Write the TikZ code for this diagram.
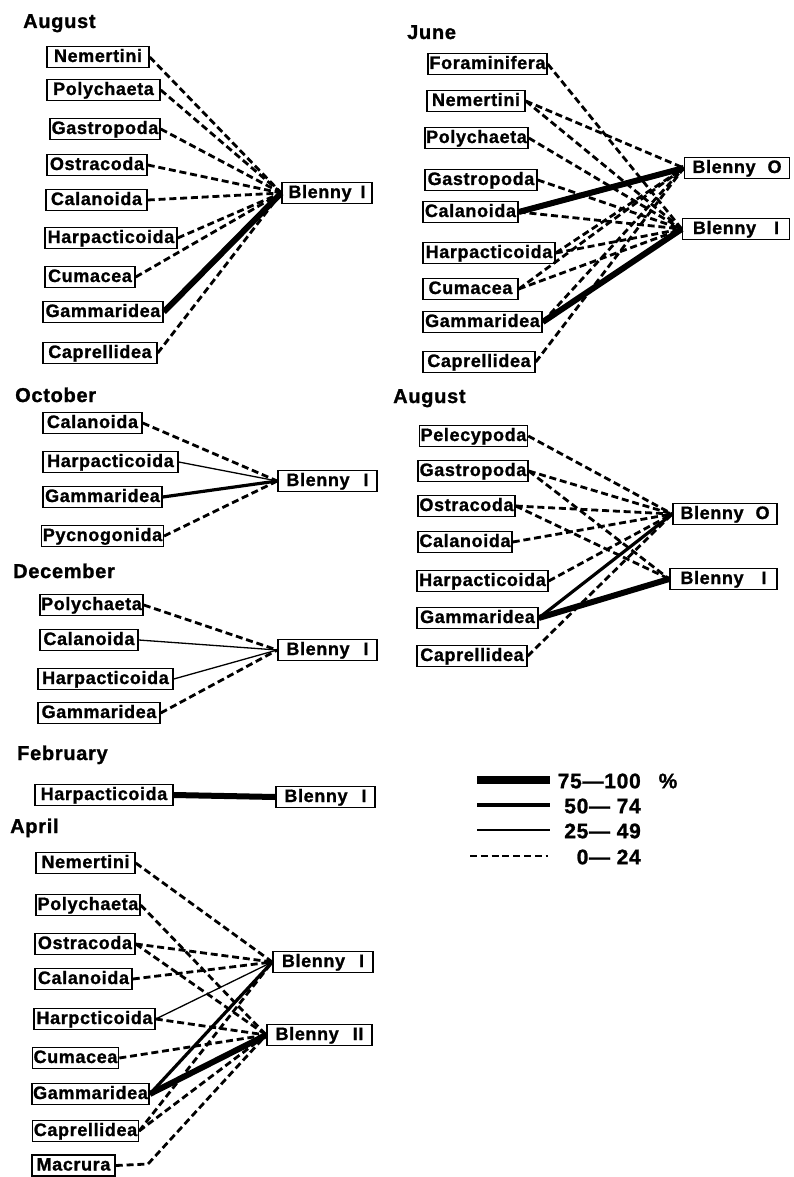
\documentclass[tikz,border=0pt]{standalone}
\usepackage{fontspec}
\setmainfont{Liberation Sans}[LetterSpace=3.5, BoldFeatures={FakeBold=1.2}]
\begin{document}
\begin{tikzpicture}[x=1pt,y=-1pt,
  box/.style={draw, line width=1.5pt, fill=white, font=\fontsize{18}{18}\selectfont\bfseries,
    inner xsep=1.2pt, inner ysep=0pt, minimum height=21pt, text height=13pt, text depth=3pt},
  ttl/.style={anchor=base west, inner sep=0pt, font=\fontsize{20}{20}\selectfont\bfseries},
  leg/.style={anchor=east, inner sep=0pt, font=\fontsize{21}{21}\selectfont\bfseries},
  pc0/.style={line width=2.8pt, dash pattern=on 7pt off 3.8pt},
  pc25/.style={line width=1.3pt},
  pc50/.style={line width=3.2pt},
  pc75/.style={line width=6pt}]
\useasboundingbox (0,0) rectangle (793,1177);

% ---------------- August (top left)
\node[ttl] (tA) at (23,28) {August};
\node[box, minimum width=102pt] (aNem) at (98,57) {Nemertini};
\node[box, minimum width=113pt] (aPol) at (103.5,90) {Polychaeta};
\node[box, minimum width=110pt] (aGas) at (105,129) {Gastropoda};
\node[box, minimum width=100pt] (aOst) at (97,165) {Ostracoda};
\node[box, minimum width=101pt] (aCal) at (96.5,200) {Calanoida};
\node[box, minimum width=132pt] (aHar) at (111,238) {Harpacticoida};
\node[box, minimum width=90pt] (aCum) at (90,277) {Cumacea};
\node[box, minimum width=120pt] (aGam) at (103,312) {Gammaridea};
\node[box, minimum width=114pt] (aCap) at (100,353) {Caprellidea};
\node[box, minimum width=90pt] (aB) at (327,193) {Blenny\hspace{9pt}I};
\foreach \s in {aNem,aPol,aGas,aOst,aCal,aHar,aCum,aCap}
  \draw[pc0] (\s.east) -- (aB.west);
\draw[pc75] (aGam.east) -- (aB.west);

% ---------------- June
\node[ttl] (tJ) at (407,39) {June};
\node[box, minimum width=119pt] (jFor) at (487.5,64) {Foraminifera};
\node[box, minimum width=98pt] (jNem) at (476,101) {Nemertini};
\node[box, minimum width=103pt] (jPol) at (476.5,138) {Polychaeta};
\node[box, minimum width=112pt] (jGas) at (481,180) {Gastropoda};
\node[box, minimum width=95pt] (jCal) at (470.5,212) {Calanoida};
\node[box, minimum width=132pt] (jHar) at (489,253) {Harpacticoida};
\node[box, minimum width=95pt] (jCum) at (470.5,289) {Cumacea};
\node[box, minimum width=119pt] (jGam) at (482.5,322) {Gammaridea};
\node[box, minimum width=112pt] (jCap) at (479,362) {Caprellidea};
\node[box, minimum width=105pt] (jBO) at (737,168) {Blenny\hspace{12pt}O};
\node[box, minimum width=107pt] (jBI) at (736,229) {Blenny\hspace{18pt}I};
\foreach \s in {jFor,jNem,jPol,jGas,jCal,jHar,jCum}
  \draw[pc0] (\s.east) -- (jBI.west);
\foreach \s in {jNem,jHar,jCum,jGam,jCap}
  \draw[pc0] (\s.east) -- (jBO.west);
\draw[pc75] (jCal.east) -- (jBO.west);
\draw[pc75] (jGam.east) -- (jBI.west);

% ---------------- October
\node[ttl] (tO) at (15,402) {October};
\node[box, minimum width=99pt] (oCal) at (92.5,423) {Calanoida};
\node[box, minimum width=135pt] (oHar) at (110.5,462) {Harpacticoida};
\node[box, minimum width=119pt] (oGam) at (102.5,497) {Gammaridea};
\node[box, minimum width=119pt] (oPyc) at (102.5,536) {Pycnogonida};
\node[box, minimum width=99pt] (oB) at (327.5,481) {Blenny\hspace{14pt}I};
\draw[pc0] (oCal.east) -- (oB.west);
\draw[pc25] (oHar.east) -- (oB.west);
\draw[pc50] (oGam.east) -- (oB.west);
\draw[pc0] (oPyc.east) -- (oB.west);

% ---------------- December
\node[ttl] (tD) at (13,578) {December};
\node[box, minimum width=103pt] (dPol) at (91.5,605) {Polychaeta};
\node[box, minimum width=98pt] (dCal) at (89,640) {Calanoida};
\node[box, minimum width=135pt] (dHar) at (105.5,679) {Harpacticoida};
\node[box, minimum width=122pt] (dGam) at (99,713) {Gammaridea};
\node[box, minimum width=99pt] (dB) at (327.5,650) {Blenny\hspace{14pt}I};
\draw[pc0] (dPol.east) -- (dB.west);
\draw[pc25] (dCal.east) -- (dB.west);
\draw[pc25] (dHar.east) -- (dB.west);
\draw[pc0] (dGam.east) -- (dB.west);

% ---------------- February
\node[ttl] (tF) at (17,760) {February};
\node[box, minimum width=138pt] (fHar) at (104,795) {Harpacticoida};
\node[box, minimum width=99pt] (fB) at (325.5,797) {Blenny\hspace{14pt}I};
\draw[pc75] (fHar.east) -- (fB.west);

% ---------------- April
\node[ttl] (tP) at (10,833) {April};
\node[box, minimum width=99pt] (pNem) at (85.5,863) {Nemertini};
\node[box, minimum width=104pt] (pPol) at (88,905) {Polychaeta};
\node[box, minimum width=100pt] (pOst) at (85,944) {Ostracoda};
\node[box, minimum width=97pt] (pCal) at (83.5,979) {Calanoida};
\node[box, minimum width=121pt] (pHar) at (94.5,1019) {Harpcticoida};
\node[box, minimum width=85pt] (pCum) at (75.5,1058) {Cumacea};
\node[box, minimum width=115pt] (pGam) at (90.5,1094) {Gammaridea};
\node[box, minimum width=105pt] (pCap) at (85.5,1131) {Caprellidea};
\node[box, minimum width=83pt] (pMac) at (73.5,1165.5) {Macrura};
\node[box, minimum width=100pt] (pB1) at (323,962) {Blenny\hspace{14pt}I};
\node[box, minimum width=105pt] (pB2) at (319.5,1035) {Blenny\hspace{14pt}II};
\coordinate (mk) at (148,1164);
\draw[pc0] (pNem.east) -- (pB1.west);
\draw[pc0] (pPol.east) -- (pB2.west);
\draw[pc0] (pOst.east) -- (pB1.west);
\draw[pc0] (pOst.east) -- (pB2.west);
\draw[pc0] (pCal.east) -- (pB1.west);
\draw[pc25] (pHar.east) -- (pB1.west);
\draw[pc0] (pHar.east) -- (pB2.west);
\draw[pc0] (pCum.east) -- (pB2.west);
\draw[pc50] (pGam.east) -- (pB1.west);
\draw[pc75] (pGam.east) -- (pB2.west);
\draw[pc0] (pCap.east) -- (pB1.west);
\draw[pc0] (pCap.east) -- (pB2.west);
\draw[pc0] (pMac.east) -- (mk) -- (pB2.west);

% ---------------- August (right)
\node[ttl] (tR) at (393,403) {August};
\node[box, minimum width=107pt] (rPel) at (473.5,436) {Pelecypoda};
\node[box, minimum width=110pt] (rGas) at (473,471) {Gastropoda};
\node[box, minimum width=97pt] (rOst) at (466.5,506) {Ostracoda};
\node[box, minimum width=94pt] (rCal) at (465,542) {Calanoida};
\node[box, minimum width=131pt] (rHar) at (482.5,581) {Harpacticoida};
\node[box, minimum width=121pt] (rGam) at (477.5,618) {Gammaridea};
\node[box, minimum width=110pt] (rCap) at (472,656) {Caprellidea};
\node[box, minimum width=104pt] (rBO) at (725,514) {Blenny\hspace{12pt}O};
\node[box, minimum width=107pt] (rBI) at (723.5,579) {Blenny\hspace{18pt}I};
\foreach \s in {rPel,rGas,rOst,rCal,rHar,rCap}
  \draw[pc0] (\s.east) -- (rBO.west);
\draw[pc0] (rGas.east) -- (rBI.west);
\draw[pc0] (rOst.east) -- (rBI.west);
\draw[pc50] (rGam.east) -- (rBO.west);
\draw[pc75] (rGam.east) -- (rBI.west);

% ---------------- legend
\coordinate (l1a) at (477,780); \coordinate (l1b) at (550,780);
\coordinate (l2a) at (477,805); \coordinate (l2b) at (550,805);
\coordinate (l3a) at (477,830); \coordinate (l3b) at (550,830);
\coordinate (l4a) at (470,856); \coordinate (l4b) at (548,856);
\draw[pc75, line width=8pt] (l1a) -- (l1b);
\draw[pc50] (l2a) -- (l2b);
\draw[pc25] (l3a) -- (l3b);
\draw[pc0] (l4a) -- (l4b);
\node[leg] (g1) at (641,781) {75—100};
\node[leg] (g2) at (641,806) {50— 74};
\node[leg] (g3) at (641,831) {25— 49};
\node[leg] (g4) at (641,857) {0— 24};
\node[leg, anchor=center] (pct) at (668,781) {\%};
\end{tikzpicture}
\end{document}
